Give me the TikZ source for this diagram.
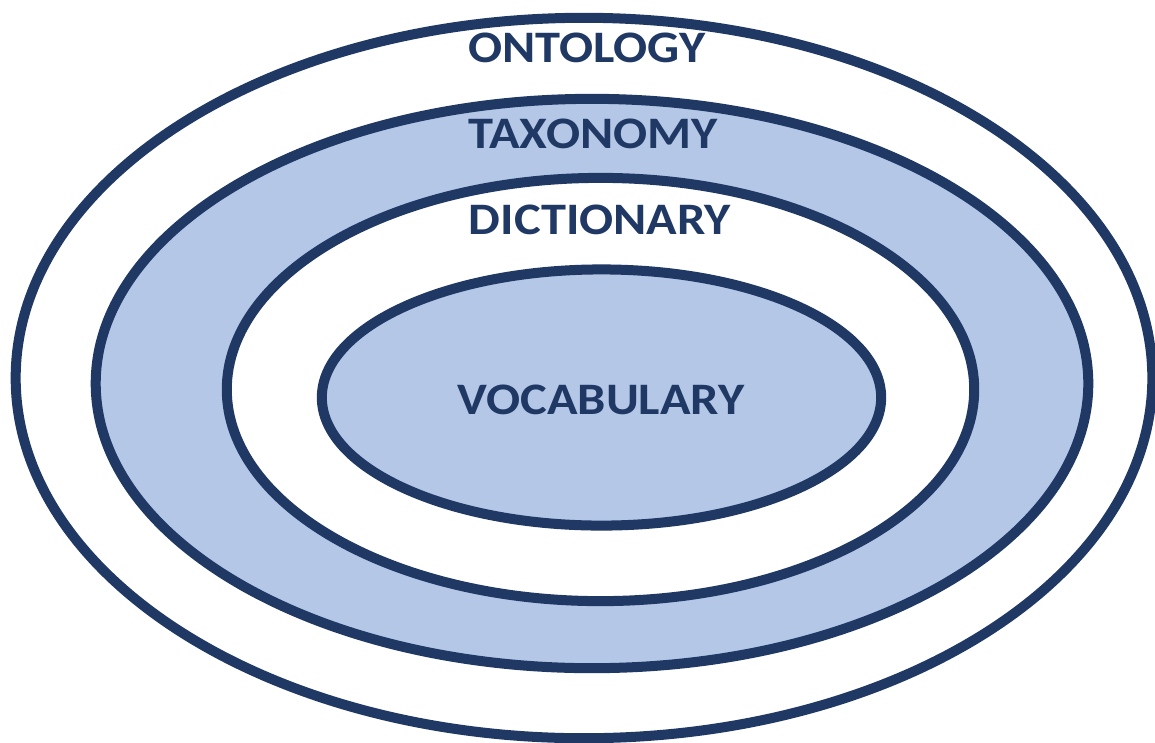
\documentclass[tikz,border=0pt]{standalone}
\usepackage{fontspec}
\setmainfont{Carlito}
\usetikzlibrary{shapes.geometric}
\definecolor{navy}{HTML}{1F3864}
\definecolor{paleblue}{HTML}{B4C7E7}
% layer names are set slightly widened
\newcommand{\layername}[1]{\scalebox{1.12}[1]{#1}}
\begin{document}
\begin{tikzpicture}[x=0.01cm,y=-0.01cm,
  ring/.style={ellipse, draw=navy, line width=0.1cm, inner sep=0pt},
  label/.style={text=navy, font=\fontsize{12.8pt}{14pt}\selectfont\bfseries, inner sep=0pt}]
  \useasboundingbox (0,0) rectangle (1155,742);
  % nested layers, outermost first
  \node[ring, fill=white, minimum width=11.36cm, minimum height=7.2cm] (onto) at (584,378) {};
  \node[ring, fill=paleblue, minimum width=9.92cm, minimum height=5.69cm] (taxo) at (592,383.5) {};
  \node[ring, fill=white, minimum width=7.47cm, minimum height=4.23cm] (dict) at (600.5,389.5) {};
  \node[ring, fill=paleblue, minimum width=5.59cm, minimum height=2.56cm] (voca) at (601.5,397.5) {};
  % layer names
  \node[label] (tonto) at (587,48) {\layername{ONTOLOGY}};
  \node[label] (ttaxo) at (593,134) {\layername{TAXONOMY}};
  \node[label] (tdict) at (600,220) {\layername{DICTIONARY}};
  \node[label] (tvoca) at (601,400) {\layername{VOCABULARY}};
\end{tikzpicture}
\end{document}
